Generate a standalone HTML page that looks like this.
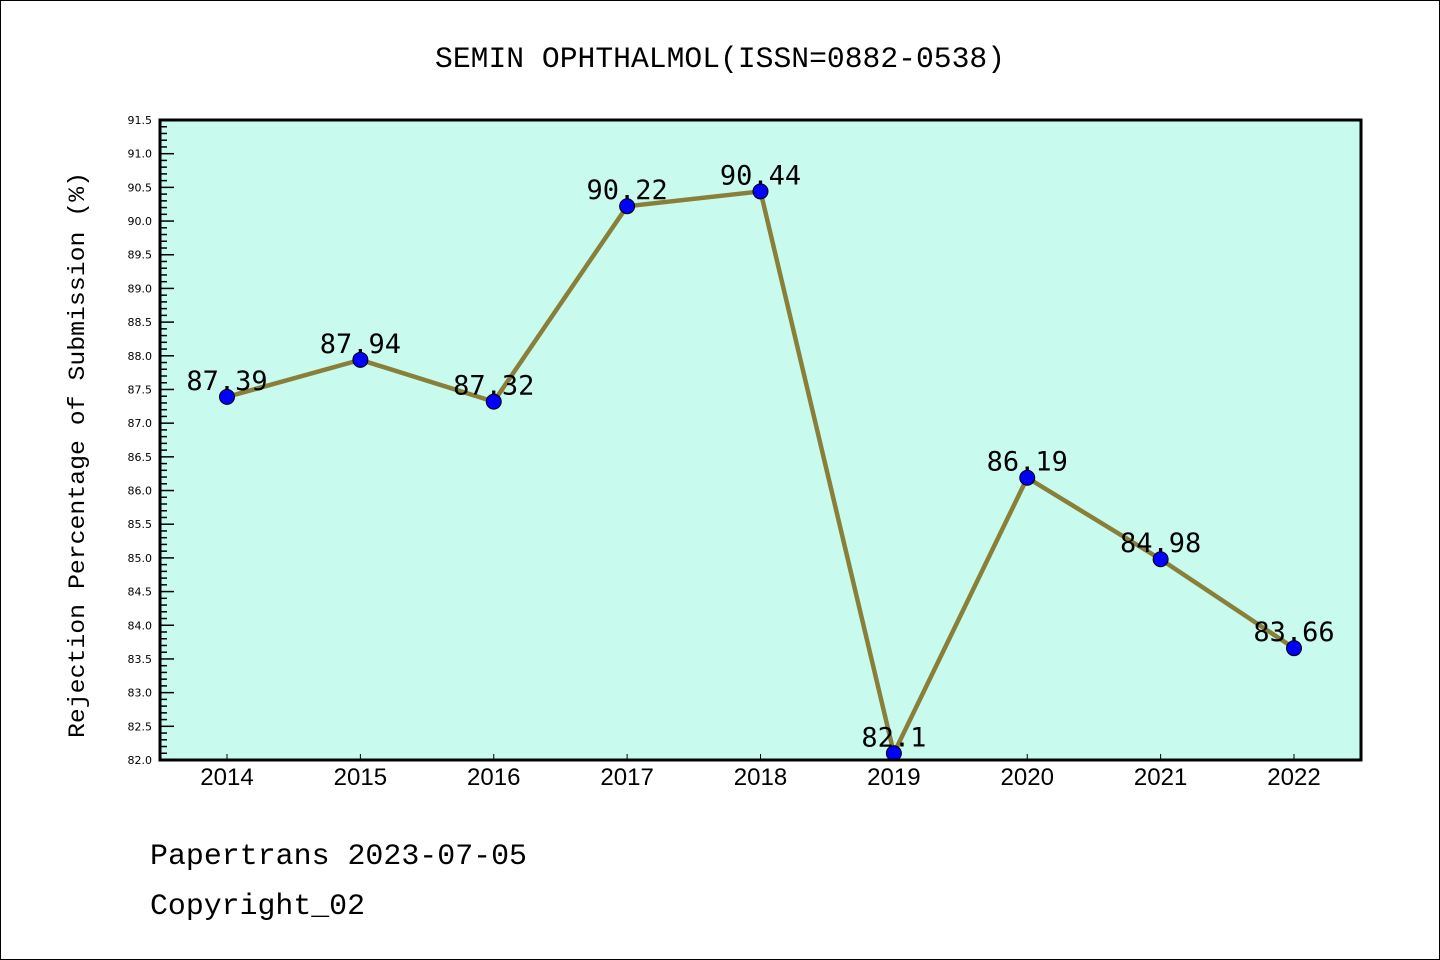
<!DOCTYPE html>
<html><head><meta charset="utf-8"><style>
html,body{margin:0;padding:0;background:#fff;}
svg{display:block;font-family:"Liberation Mono","DejaVu Sans Mono",monospace;}
</style></head><body>
<svg id="chart" width="1440" height="960">
<rect x="0.5" y="0.5" width="1439" height="959" fill="#fff" stroke="#000"/>
<text x="435" y="67" font-size="30" textLength="570" lengthAdjust="spacingAndGlyphs">SEMIN OPHTHALMOL(ISSN=0882-0538)</text>
<rect x="160" y="120" width="1201" height="640" fill="#c8fbee"/>
<g id="yticks"></g>
<g id="xticks"></g>
<g id="series"></g>
<rect x="160" y="120" width="1201" height="640" fill="none" stroke="#000" stroke-width="3"/>
<text transform="translate(84,738) rotate(-90)" font-size="23" textLength="566" lengthAdjust="spacingAndGlyphs">Rejection Percentage of Submission (%)</text>
<text x="150" y="864" font-size="30" textLength="377" lengthAdjust="spacingAndGlyphs">Papertrans 2023-07-05</text>
<text x="150" y="914" font-size="30" textLength="215" lengthAdjust="spacingAndGlyphs">Copyright_02</text>
</svg>
<script>
const years=["2014","2015","2016","2017","2018","2019","2020","2021","2022"];
const values=[87.39,87.94,87.32,90.22,90.44,82.1,86.19,84.98,83.66];
const labels=["87.39","87.94","87.32","90.22","90.44","82.1","86.19","84.98","83.66"];
const yMin=82.0,yMax=91.5;
const NS="http://www.w3.org/2000/svg";
function X(i){return 227+i*(1294-227)/(years.length-1);}
function Y(v){return 760-(v-yMin)/(yMax-yMin)*640;}
function mk(t,a,p){const e=document.createElementNS(NS,t);for(const k in a)e.setAttribute(k,a[k]);p.appendChild(e);return e;}
const yg=document.getElementById('yticks');
for(let k=0;k<=95;k++){
  const v=yMin+k*0.1,y=Y(v),maj=k%5===0;
  const l=mk('line',{x1:160,x2:160+(maj?14:7),y1:y,y2:y,stroke:'#000','stroke-width':1.5},yg);
  
  
  if(maj){const t=mk('text',{x:152,y:y+4,'text-anchor':'end','font-size':11,'font-family':'"DejaVu Sans",sans-serif'},yg);t.textContent=v.toFixed(1);
  
  }
}
const xg=document.getElementById('xticks');
years.forEach((yr,i)=>{
  const x=X(i);
  const l=mk('line',{x1:x,x2:x,y1:760,y2:754,stroke:'#000','stroke-width':1},xg);
  
  
  const t=mk('text',{x:x,y:785,'text-anchor':'middle','font-size':24,'font-family':'"Liberation Sans",sans-serif'},xg);t.textContent=yr;
  
  
});
const sg=document.getElementById('series');
const pl=mk('polyline',{points:values.map((v,i)=>X(i)+','+Y(v)).join(' '),fill:'none',stroke:'#8a7f38','stroke-width':4.5},sg);


values.forEach((v,i)=>{
  const c=mk('circle',{cx:X(i),cy:Y(v),r:7.5,fill:'#0000ff',stroke:'#000','stroke-width':1},sg);
  
  
  const t=mk('text',{x:X(i),y:Y(v)-7,'text-anchor':'middle','font-size':27,'font-family':'"DejaVu Sans Mono",monospace'},sg);t.textContent=labels[i];
  
  
});
</script>
</body></html>
